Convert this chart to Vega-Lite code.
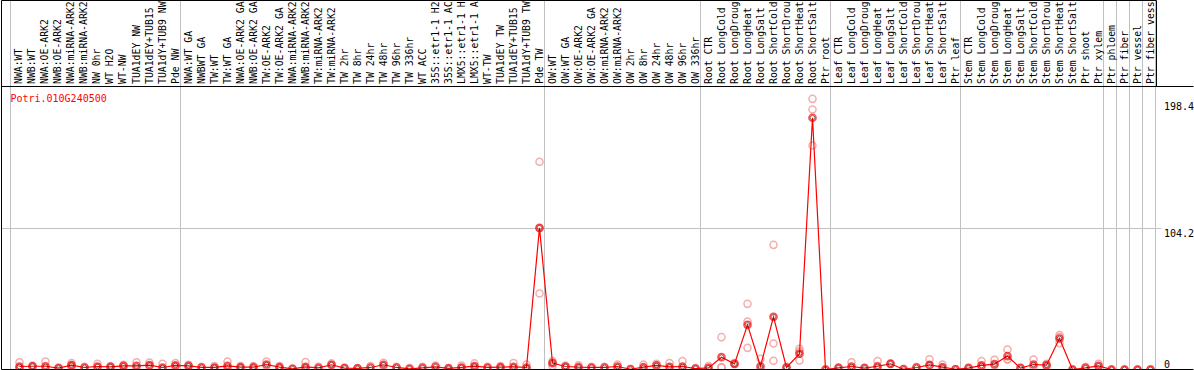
{
  "$schema": "https://vega.github.io/schema/vega-lite/v6.json",
  "autosize": {"type": "none"},
  "padding": {"left": 1.5, "top": 0.5, "right": 0.5, "bottom": 0.5},
  "width": 1192,
  "height": 369,
  "config": {
    "view": {"stroke": null},
    "font": "DejaVu Sans Mono"
  },
  "datasets": {
    "means": [
      {"i":0,"label":"NWA:WT","mean":2.2},
      {"i":1,"label":"NWB:WT","mean":2.4},
      {"i":2,"label":"NWA:OE-ARK2","mean":2.4},
      {"i":3,"label":"NWB:OE-ARK2","mean":1.0},
      {"i":4,"label":"NWA:miRNA-ARK2","mean":3.2},
      {"i":5,"label":"NWB:miRNA-ARK2","mean":1.5},
      {"i":6,"label":"NW 0hr","mean":2.2},
      {"i":7,"label":"WT H2O","mean":2.0},
      {"i":8,"label":"WT-NW","mean":2.7},
      {"i":9,"label":"TUA1dEY NW","mean":2.7},
      {"i":10,"label":"TUA1dEY+TUB15","mean":3.2},
      {"i":11,"label":"TUA1dY+TUB9 NW","mean":1.5},
      {"i":12,"label":"Pde NW","mean":3.0},
      {"i":13,"label":"NWA:WT GA","mean":2.7},
      {"i":14,"label":"NWBWT GA","mean":1.5},
      {"i":15,"label":"TW:WT","mean":1.5},
      {"i":16,"label":"TW:WT GA","mean":2.7},
      {"i":17,"label":"NWA:OE-ARK2 GA","mean":1.7},
      {"i":18,"label":"NWB:OE-ARK2 GA","mean":1.7},
      {"i":19,"label":"TW:OE-ARK2","mean":3.7},
      {"i":20,"label":"TW:OE-ARK2 GA","mean":1.7},
      {"i":21,"label":"NWA:miRNA-ARK2","mean":0.5},
      {"i":22,"label":"NWB:miRNA-ARK2","mean":2.0},
      {"i":23,"label":"TW:miRNA-ARK2","mean":1.2},
      {"i":24,"label":"TW:miRNA-ARK2","mean":3.5},
      {"i":25,"label":"TW 2hr","mean":1.0},
      {"i":26,"label":"TW 8hr","mean":0.8},
      {"i":27,"label":"TW 24hr","mean":1.5},
      {"i":28,"label":"TW 48hr","mean":3.5},
      {"i":29,"label":"TW 96hr","mean":1.5},
      {"i":30,"label":"TW 336hr","mean":0.5},
      {"i":31,"label":"WT ACC","mean":1.2},
      {"i":32,"label":"35S::etr1-1 H2","mean":2.0},
      {"i":33,"label":"35S::etr1-1 AC","mean":0.8},
      {"i":34,"label":"LMX5::etr1-1 H","mean":1.5},
      {"i":35,"label":"LMX5::etr1-1 A","mean":2.5},
      {"i":36,"label":"WT-TW","mean":1.5},
      {"i":37,"label":"TUA1dEY TW","mean":1.7},
      {"i":38,"label":"TUA1dEY+TUB15","mean":2.0},
      {"i":39,"label":"TUA1dY+TUB9 TW","mean":1.5},
      {"i":40,"label":"Pde TW","mean":104.7},
      {"i":41,"label":"OW:WT","mean":4.7},
      {"i":42,"label":"OW:WT GA","mean":2.2},
      {"i":43,"label":"OW:OE-ARK2","mean":1.7},
      {"i":44,"label":"OW:OE-ARK2 GA","mean":1.5},
      {"i":45,"label":"OW:miRNA-ARK2","mean":1.5},
      {"i":46,"label":"OW:miRNA-ARK2","mean":2.2},
      {"i":47,"label":"OW 2hr","mean":0.2},
      {"i":48,"label":"OW 8hr","mean":1.7},
      {"i":49,"label":"OW 24hr","mean":3.0},
      {"i":50,"label":"OW 48hr","mean":2.0},
      {"i":51,"label":"OW 96hr","mean":2.2},
      {"i":52,"label":"OW 336hr","mean":0.7},
      {"i":53,"label":"Root CTR","mean":1.2},
      {"i":54,"label":"Root LongCold","mean":9.1},
      {"i":55,"label":"Root LongDroug","mean":4.2},
      {"i":56,"label":"Root LongHeat","mean":33.0},
      {"i":57,"label":"Root LongSalt","mean":2.4},
      {"i":58,"label":"Root ShortCold","mean":38.9},
      {"i":59,"label":"Root ShortDrou","mean":1.5},
      {"i":60,"label":"Root ShortHeat","mean":11.7},
      {"i":61,"label":"Root ShortSalt","mean":186.0},
      {"i":62,"label":"Ptr root","mean":0},
      {"i":63,"label":"Leaf CTR","mean":1.2},
      {"i":64,"label":"Leaf LongCold","mean":2.2},
      {"i":65,"label":"Leaf LongDroug","mean":1.0},
      {"i":66,"label":"Leaf LongHeat","mean":2.4},
      {"i":67,"label":"Leaf LongSalt","mean":4.2},
      {"i":68,"label":"Leaf ShortCold","mean":0.2},
      {"i":69,"label":"Leaf ShortDrou","mean":1.5},
      {"i":70,"label":"Leaf ShortHeat","mean":3.4},
      {"i":71,"label":"Leaf ShortSalt","mean":1.7},
      {"i":72,"label":"Ptr leaf","mean":0.2},
      {"i":73,"label":"Stem CTR","mean":1.0},
      {"i":74,"label":"Stem LongCold","mean":3.0},
      {"i":75,"label":"Stem LongDroug","mean":4.0},
      {"i":76,"label":"Stem LongHeat","mean":9.9},
      {"i":77,"label":"Stem LongSalt","mean":1.0},
      {"i":78,"label":"Stem ShortCold","mean":3.7},
      {"i":79,"label":"Stem ShortDrou","mean":3.2},
      {"i":80,"label":"Stem ShortHeat","mean":22.9},
      {"i":81,"label":"Stem ShortSalt","mean":0},
      {"i":82,"label":"Ptr shoot","mean":1.2},
      {"i":83,"label":"Ptr xylem","mean":2.7},
      {"i":84,"label":"Ptr phloem","mean":0},
      {"i":85,"label":"Ptr fiber","mean":0},
      {"i":86,"label":"Ptr vessel","mean":0},
      {"i":87,"label":"Ptr fiber vess","mean":0}
    ],
    "reps": [
      {"i":0,"v":5.4},{"i":0,"v":1.0},{"i":0,"v":0.3},
      {"i":1,"v":3.0},{"i":1,"v":2.0},
      {"i":2,"v":5.9},{"i":2,"v":1.0},
      {"i":3,"v":1.5},
      {"i":4,"v":4.7},{"i":4,"v":2.0},{"i":4,"v":3.0},
      {"i":5,"v":2.0},
      {"i":6,"v":4.2},{"i":6,"v":1.5},
      {"i":7,"v":2.5},{"i":7,"v":1.5},
      {"i":8,"v":3.5},{"i":8,"v":2.0},
      {"i":9,"v":5.4},{"i":9,"v":1.0},
      {"i":10,"v":5.2},{"i":10,"v":2.5},
      {"i":11,"v":4.2},{"i":11,"v":0.5},
      {"i":12,"v":4.7},{"i":12,"v":2.0},
      {"i":13,"v":3.5},{"i":13,"v":2.0},
      {"i":14,"v":2.0},
      {"i":15,"v":2.5},{"i":15,"v":1.0},
      {"i":16,"v":5.9},{"i":16,"v":1.0},
      {"i":17,"v":2.5},{"i":17,"v":1.0},
      {"i":18,"v":2.5},{"i":18,"v":1.0},
      {"i":19,"v":5.9},{"i":19,"v":2.5},
      {"i":20,"v":2.5},{"i":20,"v":1.0},
      {"i":21,"v":0.8},
      {"i":22,"v":5.5},{"i":22,"v":1.0},
      {"i":23,"v":2.0},
      {"i":24,"v":4.5},{"i":24,"v":3.0},
      {"i":25,"v":1.5},
      {"i":26,"v":1.0},
      {"i":27,"v":2.5},
      {"i":28,"v":5.0},{"i":28,"v":2.5},
      {"i":29,"v":2.0},
      {"i":30,"v":1.0},
      {"i":31,"v":2.0},
      {"i":32,"v":3.0},
      {"i":33,"v":1.0},
      {"i":34,"v":3.0},{"i":34,"v":1.0},
      {"i":35,"v":4.5},{"i":35,"v":1.5},
      {"i":36,"v":2.0},
      {"i":37,"v":2.5},{"i":37,"v":1.0},
      {"i":38,"v":4.7},{"i":38,"v":1.0},
      {"i":39,"v":3.7},{"i":39,"v":0.5},
      {"i":40,"v":153.5},{"i":40,"v":104.4},{"i":40,"v":56.2},
      {"i":41,"v":6.2},{"i":41,"v":2.5},{"i":41,"v":5.0},
      {"i":42,"v":3.0},{"i":42,"v":1.5},
      {"i":43,"v":3.2},{"i":43,"v":1.0},
      {"i":44,"v":2.0},
      {"i":45,"v":2.0},
      {"i":46,"v":3.7},{"i":46,"v":1.0},
      {"i":47,"v":0.5},
      {"i":48,"v":3.7},{"i":48,"v":0.5},
      {"i":49,"v":4.2},{"i":49,"v":2.0},
      {"i":50,"v":4.7},{"i":50,"v":1.0},
      {"i":51,"v":6.2},{"i":51,"v":0.5},
      {"i":52,"v":1.0},
      {"i":53,"v":2.5},{"i":53,"v":0.5},
      {"i":54,"v":23.9},{"i":54,"v":1.7},{"i":54,"v":1.7},
      {"i":55,"v":4.7},{"i":55,"v":4.0},
      {"i":56,"v":48.5},{"i":56,"v":35.5},{"i":56,"v":16.0},
      {"i":57,"v":7.9},{"i":57,"v":0},
      {"i":58,"v":92.1},{"i":58,"v":19.2},{"i":58,"v":6.4},
      {"i":59,"v":2.0},
      {"i":60,"v":15.3},{"i":60,"v":6.7},{"i":60,"v":13.4},
      {"i":61,"v":200.0},{"i":61,"v":192.1},{"i":61,"v":165.5},
      {"i":62,"v":0},
      {"i":63,"v":1.5},
      {"i":64,"v":5.4},{"i":64,"v":1.0},
      {"i":65,"v":1.5},
      {"i":66,"v":6.2},{"i":66,"v":1.0},
      {"i":67,"v":4.5},{"i":67,"v":4.0},
      {"i":68,"v":0.5},
      {"i":69,"v":1.8},
      {"i":70,"v":7.6},{"i":70,"v":3.0},
      {"i":71,"v":3.7},{"i":71,"v":0.5},
      {"i":72,"v":0.3},
      {"i":73,"v":1.5},
      {"i":74,"v":6.2},{"i":74,"v":2.0},
      {"i":75,"v":7.1},{"i":75,"v":3.0},
      {"i":76,"v":14.8},{"i":76,"v":7.6},{"i":76,"v":7.4},
      {"i":77,"v":1.5},
      {"i":78,"v":7.4},{"i":78,"v":2.0},
      {"i":79,"v":4.2},{"i":79,"v":2.5},
      {"i":80,"v":25.4},{"i":80,"v":23.9},{"i":80,"v":19.5},
      {"i":81,"v":0.2},
      {"i":82,"v":1.8},
      {"i":83,"v":4.2},{"i":83,"v":2.0},
      {"i":84,"v":0},{"i":85,"v":0},{"i":86,"v":0},{"i":87,"v":0}
    ],
    "groups": [
      {"group":"NW","start":0,"end":12},
      {"group":"TW","start":13,"end":40},
      {"group":"OW","start":41,"end":52},
      {"group":"Root","start":53,"end":62},
      {"group":"Leaf","start":63,"end":72},
      {"group":"Stem","start":73,"end":83},
      {"group":"Ptr phloem","start":84,"end":84},
      {"group":"Ptr fiber","start":85,"end":85},
      {"group":"Ptr vessel","start":86,"end":86},
      {"group":"Ptr fiber vessel","start":87,"end":87}
    ],
    "ticks": [{"tick":104.2}],
    "gene": [{"gene":"Potri.010G240500"}]
  },
  "layer": [
    {
      "data": {"name": "groups"},
      "mark": {"type": "rule", "color": "#c0c0c0", "strokeWidth": 1, "xOffset": 5},
      "encoding": {
        "x": {"field": "end", "type": "quantitative", "scale": {"domain": [-1.384615, 90.307692], "nice": false, "zero": false}, "axis": null}
      }
    },
    {
      "data": {"name": "groups"},
      "transform": [{"filter": "datum.start == 0"}],
      "mark": {"type": "rule", "color": "#c0c0c0", "strokeWidth": 1, "xOffset": -9},
      "encoding": {
        "x": {"field": "start", "type": "quantitative", "scale": {"domain": [-1.384615, 90.307692], "nice": false, "zero": false}, "axis": null}
      }
    },
    {
      "data": {"name": "ticks"},
      "mark": {"type": "rule", "color": "#c0c0c0", "strokeWidth": 1},
      "encoding": {
        "y": {"field": "tick", "type": "quantitative", "scale": {"domain": [0, 272.69], "nice": false, "zero": false},
          "axis": {"orient": "right", "values": [0, 104.2, 198.4], "format": ".1~f", "ticks": false, "domain": false, "grid": false, "title": null,
            "labelPadding": -30, "labelAlign": "left", "labelOverlap": false, "labelFont": "DejaVu Sans Mono", "labelFontSize": 10, "labelColor": "black",
            "labelBaseline": {"condition": {"test": "datum.value == 0", "value": "bottom"}, "value": "top"}}},
        "x": {"datum": -1.384615, "type": "quantitative", "scale": {"domain": [-1.384615, 90.307692], "nice": false, "zero": false}, "axis": null},
        "x2": {"datum": 87.846}
      }
    },
    {
      "data": {"name": "means"},
      "mark": {"type": "text", "angle": 270, "align": "left", "baseline": "middle", "dx": 2.5, "font": "DejaVu Sans Mono", "fontSize": 9.8, "color": "black"},
      "encoding": {
        "x": {"field": "i", "type": "quantitative", "scale": {"domain": [-1.384615, 90.307692], "nice": false, "zero": false}, "axis": null},
        "y": {"datum": 209.14, "type": "quantitative", "scale": {"domain": [0, 272.69], "nice": false, "zero": false}},
        "text": {"field": "label"}
      }
    },
    {
      "data": {"name": "gene"},
      "mark": {"type": "text", "align": "left", "baseline": "alphabetic", "color": "#ff0000", "font": "DejaVu Sans Mono", "fontSize": 10},
      "encoding": {
        "x": {"datum": -0.7, "type": "quantitative", "scale": {"domain": [-1.384615, 90.307692], "nice": false, "zero": false}, "axis": null},
        "y": {"datum": 198.0, "type": "quantitative", "scale": {"domain": [0, 272.69], "nice": false, "zero": false}},
        "text": {"field": "gene"}
      }
    },
    {
      "data": {"name": "reps"},
      "mark": {"type": "point", "shape": "circle", "filled": false, "color": "#f08c8c", "size": 50, "strokeWidth": 1.5},
      "encoding": {
        "x": {"field": "i", "type": "quantitative", "scale": {"domain": [-1.384615, 90.307692], "nice": false, "zero": false}, "axis": null},
        "y": {"field": "v", "type": "quantitative", "scale": {"domain": [0, 272.69], "nice": false, "zero": false}}
      }
    },
    {
      "data": {"name": "means"},
      "mark": {"type": "line", "color": "#ff0000", "strokeWidth": 1.2},
      "encoding": {
        "x": {"field": "i", "type": "quantitative", "scale": {"domain": [-1.384615, 90.307692], "nice": false, "zero": false}, "axis": null},
        "y": {"field": "mean", "type": "quantitative", "scale": {"domain": [0, 272.69], "nice": false, "zero": false}}
      }
    },
    {
      "data": {"name": "means"},
      "mark": {"type": "point", "shape": "circle", "filled": false, "color": "#ff0000", "size": 50, "strokeWidth": 1.6},
      "encoding": {
        "x": {"field": "i", "type": "quantitative", "scale": {"domain": [-1.384615, 90.307692], "nice": false, "zero": false}, "axis": null},
        "y": {"field": "mean", "type": "quantitative", "scale": {"domain": [0, 272.69], "nice": false, "zero": false}}
      }
    },
    {
      "data": {"name": "means"},
      "mark": {"type": "point", "shape": "circle", "filled": false, "color": "#300000", "size": 22, "strokeWidth": 0.8, "opacity": 0.7},
      "encoding": {
        "x": {"field": "i", "type": "quantitative", "scale": {"domain": [-1.384615, 90.307692], "nice": false, "zero": false}, "axis": null},
        "y": {"field": "mean", "type": "quantitative", "scale": {"domain": [0, 272.69], "nice": false, "zero": false}}
      }
    },
    {
      "data": {"name": "gene"},
      "mark": {"type": "rule", "color": "black", "strokeWidth": 1},
      "encoding": {
        "x": {"datum": -1.384615, "type": "quantitative", "scale": {"domain": [-1.384615, 90.307692], "nice": false, "zero": false}, "axis": null}
      }
    },
    {
      "data": {"name": "gene"},
      "mark": {"type": "rule", "color": "black", "strokeWidth": 1},
      "encoding": {
        "y": {"datum": 209.14, "type": "quantitative", "scale": {"domain": [0, 272.69], "nice": false, "zero": false}}
      }
    },
    {
      "data": {"name": "gene"},
      "mark": {"type": "rule", "color": "black", "strokeWidth": 1},
      "encoding": {
        "y": {"datum": 0, "type": "quantitative", "scale": {"domain": [0, 272.69], "nice": false, "zero": false}}
      }
    },
    {
      "data": {"name": "gene"},
      "mark": {"type": "rule", "color": "black", "strokeWidth": 1},
      "encoding": {
        "y": {"datum": 272.69, "type": "quantitative", "scale": {"domain": [0, 272.69], "nice": false, "zero": false}},
        "x": {"datum": -1.384615, "type": "quantitative", "scale": {"domain": [-1.384615, 90.307692], "nice": false, "zero": false}, "axis": null},
        "x2": {"datum": 87.461538}
      }
    },
    {
      "data": {"name": "gene"},
      "mark": {"type": "rule", "color": "black", "strokeWidth": 1},
      "encoding": {
        "x": {"datum": 87.461538, "type": "quantitative", "scale": {"domain": [-1.384615, 90.307692], "nice": false, "zero": false}, "axis": null},
        "y": {"datum": 209.14, "type": "quantitative", "scale": {"domain": [0, 272.69], "nice": false, "zero": false}},
        "y2": {"datum": 272.69}
      }
    }
  ]
}
